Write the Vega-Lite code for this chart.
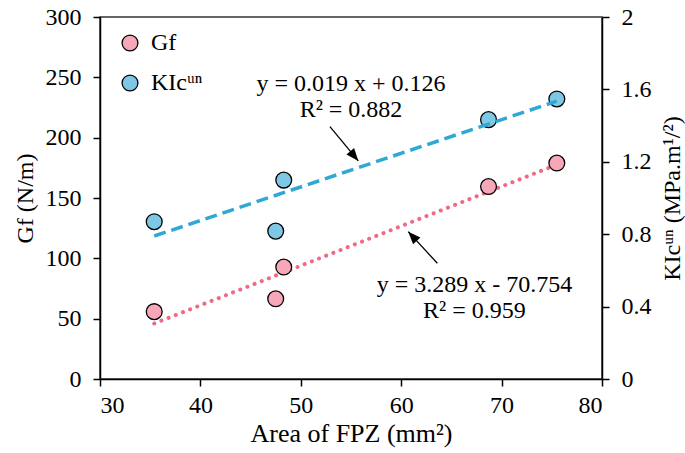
{
  "$schema": "https://vega.github.io/schema/vega-lite/v6.json",
  "autosize": {"type": "none"},
  "width": 502,
  "height": 362,
  "padding": {"left": 100, "top": 17, "right": 83, "bottom": 74},
  "background": "white",
  "config": {
    "font": "Liberation Serif",
    "view": {"stroke": "#333333", "strokeWidth": 1.5},
    "axis": {
      "grid": false,
      "domainColor": "black",
      "domainWidth": 1.5,
      "tickColor": "black",
      "tickWidth": 1.5,
      "tickSize": 7,
      "labelColor": "black",
      "labelFont": "Liberation Serif",
      "labelFontSize": 24,
      "labelPadding": 6,
      "titleFont": "Liberation Serif",
      "titleFontSize": 24,
      "titleFontWeight": "normal",
      "titleColor": "black"
    },
    "legend": {
      "labelFont": "Liberation Serif",
      "labelFontSize": 24,
      "labelColor": "black"
    }
  },
  "datasets": {
    "gf": [
      {"area": 35.4, "value": 55.8, "series": "Gf"},
      {"area": 47.5, "value": 66.5, "series": "Gf"},
      {"area": 48.3, "value": 92.8, "series": "Gf"},
      {"area": 68.7, "value": 159.5, "series": "Gf"},
      {"area": 75.5, "value": 179.0, "series": "Gf"}
    ],
    "kic": [
      {"area": 35.4, "value": 0.869, "series": "KIc"},
      {"area": 47.5, "value": 0.817, "series": "KIc"},
      {"area": 48.3, "value": 1.099, "series": "KIc"},
      {"area": 68.7, "value": 1.433, "series": "KIc"},
      {"area": 75.5, "value": 1.547, "series": "KIc"}
    ],
    "gfTrend": [
      {"area": 35.4, "value": 46.0},
      {"area": 75.5, "value": 177.6}
    ],
    "kicTrend": [
      {"area": 35.4, "value": 0.79},
      {"area": 75.5, "value": 1.535}
    ],
    "labels": [
      {"area": 55.0, "value": 244.5, "text": "y = 0.019 x + 0.126"},
      {"area": 55.0, "value": 222.9, "text": "R² = 0.882"},
      {"area": 67.3, "value": 77.9, "text": "y = 3.289 x - 70.754"},
      {"area": 67.3, "value": 56.4, "text": "R² = 0.959"}
    ],
    "arrows": [
      {"area": 52.9, "value": 209.1, "area2": 55.73, "value2": 180.7, "angle": 140.5},
      {"area": 63.6, "value": 95.9, "area2": 60.7, "value2": 122.1, "angle": 317.5}
    ]
  },
  "layer": [
    {
      "layer": [
        {
          "data": {"name": "gfTrend"},
          "mark": {"type": "line", "color": "#f06a85", "strokeWidth": 4, "strokeDash": [0.1, 7.6], "strokeCap": "round"},
          "encoding": {
            "x": {"field": "area", "type": "quantitative"},
            "y": {"field": "value", "type": "quantitative"}
          }
        },
        {
          "data": {"name": "gf"},
          "mark": {"type": "point", "shape": "circle", "filled": true, "opacity": 1, "size": 250, "stroke": "black", "strokeWidth": 1.3},
          "encoding": {
            "x": {"field": "area", "type": "quantitative", "scale": {"domain": [30, 80], "nice": false}, "axis": {"values": [30, 40, 50, 60, 70, 80], "title": "Area of FPZ (mm²)", "titleFontSize": 26, "labelPadding": 7, "titlePadding": 3}},
            "y": {"field": "value", "type": "quantitative", "scale": {"domain": [0, 300], "nice": false}, "axis": {"values": [0, 50, 100, 150, 200, 250, 300], "title": "Gf (N/m)", "labelPadding": 12, "titleX": -75, "titleY": 181, "titleAngle": -90, "titleAlign": "center", "titleBaseline": "middle"}},
            "color": {
              "field": "series", "type": "nominal",
              "scale": {"domain": ["Gf", "KIc"], "range": ["#f7a8b8", "#7ec8e6"]},
              "legend": {
                "title": null,
                "orient": "none",
                "legendX": 18,
                "legendY": 14,
                "symbolSize": 250,
                "symbolStrokeColor": "black",
                "symbolStrokeWidth": 1.3,
                "symbolType": "circle",
                "rowPadding": 16,
                "labelOffset": 9,
                "padding": 0,
                "labelExpr": "datum.value == 'Gf' ? 'Gf' : 'KIcᵘⁿ'"
              }
            }
          }
        },
        {
          "data": {"name": "labels"},
          "mark": {"type": "text", "fontSize": 24, "font": "Liberation Serif", "color": "black", "align": "center", "baseline": "middle"},
          "encoding": {
            "x": {"field": "area", "type": "quantitative"},
            "y": {"field": "value", "type": "quantitative"},
            "text": {"field": "text"}
          }
        },
        {
          "data": {"name": "arrows"},
          "mark": {"type": "rule", "color": "black", "strokeWidth": 1.3},
          "encoding": {
            "x": {"field": "area", "type": "quantitative"},
            "y": {"field": "value", "type": "quantitative"},
            "x2": {"field": "area2"},
            "y2": {"field": "value2"}
          }
        },
        {
          "data": {"name": "arrows"},
          "mark": {"type": "point", "shape": "M0,0L-0.55,1.4L0.55,1.4Z", "filled": true, "color": "black", "opacity": 1, "size": 324},
          "encoding": {
            "x": {"field": "area2", "type": "quantitative"},
            "y": {"field": "value2", "type": "quantitative"},
            "angle": {"field": "angle", "type": "quantitative", "scale": null}
          }
        }
      ]
    },
    {
      "layer": [
        {
          "data": {"name": "kic"},
          "mark": {"type": "point", "shape": "circle", "filled": true, "opacity": 1, "size": 250, "stroke": "black", "strokeWidth": 1.3},
          "encoding": {
            "x": {"field": "area", "type": "quantitative"},
            "y": {"field": "value", "type": "quantitative", "scale": {"domain": [0, 2], "nice": false}, "axis": {"orient": "right", "values": [0, 0.4, 0.8, 1.2, 1.6, 2], "format": "~g", "labelPadding": 12, "title": "KIcᵘⁿ (MPa.m¹/²)", "titleX": 70, "titleY": 181, "titleAngle": -90, "titleAlign": "center", "titleBaseline": "middle"}},
            "color": {"field": "series", "type": "nominal"}
          }
        },
        {
          "data": {"name": "kicTrend"},
          "mark": {"type": "line", "color": "#2fa8d5", "strokeWidth": 3.5, "strokeDash": [12, 6]},
          "encoding": {
            "x": {"field": "area", "type": "quantitative"},
            "y": {"field": "value", "type": "quantitative"}
          }
        }
      ]
    }
  ],
  "resolve": {"scale": {"y": "independent"}, "axis": {"y": "independent"}}
}
